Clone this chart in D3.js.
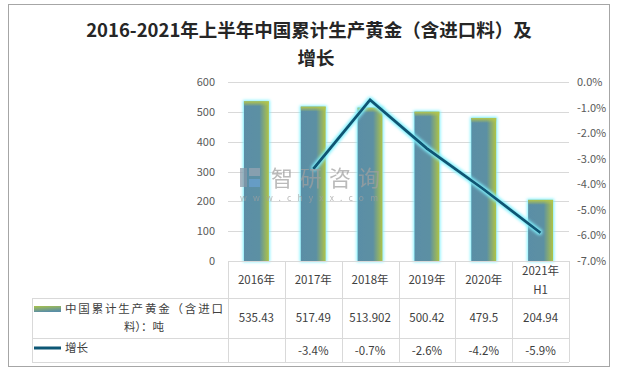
<!DOCTYPE html>
<meta charset="utf-8">
<html>
<head><title>gold production chart</title>
    <script src="https://cdn.jsdelivr.net/npm/d3@7"></script>
    <style>
        body { margin: 0; background: #fff; }
        text { font-family: "Noto Sans CJK SC", "Noto Sans", sans-serif; }
        .grid { stroke: #d9d9d9; stroke-width: 1; }
        .tbl { stroke: #d9d9d9; stroke-width: 1; fill: none; }
        .tick-lbl { fill: #595959; font-size: 11px; }
        .cell { fill: #404040; font-size: 11.5px; }
    </style>
    <script>
        var W = 619, H = 372;

        // data
        var years = ["2016年", "2017年", "2018年", "2019年", "2020年", "2021年H1"];
        var yearLines = [["2016年"], ["2017年"], ["2018年"], ["2019年"], ["2020年"], ["2021年", "H1"]];
        var gold = [535.43, 517.49, 513.902, 500.42, 479.5, 204.94];
        var goldLbl = ["535.43", "517.49", "513.902", "500.42", "479.5", "204.94"];
        var growth = [null, -0.034, -0.007, -0.026, -0.042, -0.059];
        var leftTicks = [0, 100, 200, 300, 400, 500, 600];
        var rightTicks = [0, -0.01, -0.02, -0.03, -0.04, -0.05, -0.06, -0.07];

        function pct(d) {
            return (d * 100).toFixed(1).replace("−", "-") + "%";
        }

        function init() {
            var svg = d3.select("#chart").append("svg")
                .attr("width", W).attr("height", H);

            var defs = svg.append("defs");
            var g1 = defs.append("linearGradient").attr("id", "barGrad")
                .attr("x1", 0).attr("y1", 0).attr("x2", 1).attr("y2", 0);
            g1.append("stop").attr("offset", "0%").attr("stop-color", "#5a8ea6");
            g1.append("stop").attr("offset", "62%").attr("stop-color", "#5c90a3");
            g1.append("stop").attr("offset", "100%").attr("stop-color", "#b0c445");
            var g2 = defs.append("linearGradient").attr("id", "topGrad")
                .attr("x1", 0).attr("y1", 0).attr("x2", 0).attr("y2", 1);
            g2.append("stop").attr("offset", "0%").attr("stop-color", "#b5c64a");
            g2.append("stop").attr("offset", "100%").attr("stop-color", "#b5c64a").attr("stop-opacity", 0);
            var g3 = defs.append("linearGradient").attr("id", "legGrad")
                .attr("x1", 0).attr("y1", 0).attr("x2", 0.3).attr("y2", 1);
            g3.append("stop").attr("offset", "0%").attr("stop-color", "#a9c24a");
            g3.append("stop").attr("offset", "100%").attr("stop-color", "#5a8ea6");

            var glow = defs.append("filter").attr("id", "glow")
                .attr("x", "-50%").attr("y", "-50%").attr("width", "200%").attr("height", "200%");
            glow.append("feMorphology").attr("in", "SourceAlpha").attr("operator", "dilate").attr("radius", 1.2).attr("result", "d");
            glow.append("feGaussianBlur").attr("in", "d").attr("stdDeviation", 1.8).attr("result", "b");
            glow.append("feFlood").attr("flood-color", "#7ff2ff");
            glow.append("feComposite").attr("in2", "b").attr("operator", "in").attr("result", "c");
            var m = glow.append("feMerge");
            m.append("feMergeNode").attr("in", "c");
            m.append("feMergeNode").attr("in", "SourceGraphic");

            // outer frame
            svg.append("rect").attr("x", 8.5).attr("y", 4.5).attr("width", 601).attr("height", 362)
                .attr("fill", "#fff").attr("stroke", "#a6a6a6");

            // title
            var title = svg.append("text").attr("text-anchor", "middle")
                .attr("font-size", "18.5px").attr("font-weight", "bold").attr("fill", "#262626");
            title.append("tspan").attr("x", 309).attr("y", 37).text("2016-2021年上半年中国累计生产黄金（含进口料）及");
            title.append("tspan").attr("x", 316).attr("y", 65).text("增长");

            var x = d3.scaleBand().domain(years).range([228, 569]).paddingInner(0).paddingOuter(0);
            var y = d3.scaleLinear().domain([0, 600]).range([261, 82]);
            var y2 = d3.scaleLinear().domain([-0.07, 0]).range([261, 82]);

            // grid
            svg.selectAll(".grid").data(leftTicks.slice(1)).enter().append("line")
                .attr("class", "grid")
                .attr("x1", 228).attr("x2", 569)
                .attr("y1", function(d) { return Math.round(y(d)) + 0.5; })
                .attr("y2", function(d) { return Math.round(y(d)) + 0.5; });

            // left axis labels
            svg.selectAll(".ll").data(leftTicks).enter().append("text")
                .attr("class", "tick-lbl").attr("text-anchor", "end")
                .attr("x", 215).attr("y", function(d) { return y(d) + 4; })
                .text(function(d) { return d; });

            // right axis labels
            svg.selectAll(".rl").data(rightTicks).enter().append("text")
                .attr("class", "tick-lbl").attr("text-anchor", "start")
                .attr("x", 577).attr("y", function(d) { return y2(d) + 4; })
                .text(function(d) { return d === 0 ? "0.0%" : pct(d); });

            // bars
            var bw = 25;
            var bars = svg.append("g").attr("filter", "url(#glow)");
            bars.selectAll("rect.bar").data(gold).enter().append("rect")
                .attr("class", "bar")
                .attr("x", function(d, i) { return x(years[i]) + x.bandwidth() / 2 - bw / 2; })
                .attr("y", function(d) { return y(d); })
                .attr("width", bw)
                .attr("height", function(d) { return y(0) - y(d); })
                .attr("fill", "url(#barGrad)");
            svg.selectAll("rect.top").data(gold).enter().append("rect")
                .attr("class", "top")
                .attr("x", function(d, i) { return x(years[i]) + x.bandwidth() / 2 - bw / 2; })
                .attr("y", function(d) { return y(d); })
                .attr("width", bw).attr("height", 5)
                .attr("fill", "url(#topGrad)");

            // line
            var pts = growth.map(function(d, i) { return [x(years[i]) + x.bandwidth() / 2, d]; })
                .filter(function(p) { return p[1] !== null; });
            var line = d3.line().x(function(p) { return p[0]; }).y(function(p) { return y2(p[1]); });
            svg.append("path").datum(pts).attr("d", line)
                .attr("fill", "none").attr("stroke", "#0d5775").attr("stroke-width", 3)
                .attr("stroke-linejoin", "miter").attr("filter", "url(#glow)");

            // watermark, drawn over the plot
            var wm = svg.append("g").attr("opacity", 0.72);
            wm.append("rect").attr("x", 240).attr("y", 168).attr("width", 7).attr("height", 19).attr("fill", "#8a98a8");
            wm.append("rect").attr("x", 249).attr("y", 168).attr("width", 11).attr("height", 8).attr("fill", "#98a6b4");
            wm.append("rect").attr("x", 249).attr("y", 179).attr("width", 11).attr("height", 8).attr("fill", "#6aa2d2");
            wm.append("text").attr("x", 271).attr("y", 186).attr("font-size", "22px").attr("fill", "#a0a0a0")
                .attr("textLength", 109).text("智研咨询");
            wm.append("text").attr("x", 240).attr("y", 201).attr("font-size", "8.5px").attr("fill", "#a0a0a0")
                .attr("textLength", 138).text("www.chyxx.com");

            // data table
            var tb = svg.append("g");
            tb.append("line").attr("class", "tbl").attr("x1", 228).attr("x2", 569).attr("y1", 261.5).attr("y2", 261.5);
            [298.5, 338.5, 362.5].forEach(function(yy) {
                tb.append("line").attr("class", "tbl").attr("x1", 32).attr("x2", 569).attr("y1", yy).attr("y2", yy);
            });
            tb.append("line").attr("class", "tbl").attr("x1", 32.5).attr("x2", 32.5).attr("y1", 298).attr("y2", 362);
            var edges = years.map(function(d) { return x(d); }).concat([569]);
            tb.selectAll(".vl").data(edges).enter().append("line").attr("class", "tbl")
                .attr("x1", function(d) { return Math.round(d) + 0.5; })
                .attr("x2", function(d) { return Math.round(d) + 0.5; })
                .attr("y1", 261).attr("y2", 362);

            // header
            yearLines.forEach(function(ls, i) {
                var cx = x(years[i]) + x.bandwidth() / 2;
                var t = tb.append("text").attr("class", "cell").attr("text-anchor", "middle");
                if (ls.length === 1) {
                    t.append("tspan").attr("x", cx).attr("y", 284).text(ls[0]);
                } else {
                    t.append("tspan").attr("x", cx).attr("y", 275).text(ls[0]);
                    t.append("tspan").attr("x", cx).attr("y", 294).text(ls[1]);
                }
            });
            // values
            tb.selectAll(".v1").data(goldLbl).enter().append("text").attr("class", "cell")
                .attr("text-anchor", "middle")
                .attr("x", function(d, i) { return x(years[i]) + x.bandwidth() / 2; })
                .attr("y", 322).text(function(d) { return d; });
            tb.selectAll(".v2").data(growth).enter().append("text").attr("class", "cell")
                .attr("text-anchor", "middle")
                .attr("x", function(d, i) { return x(years[i]) + x.bandwidth() / 2; })
                .attr("y", 355).text(function(d) { return d === null ? "" : pct(d); });

            // legend cells
            tb.append("rect").attr("x", 34).attr("y", 306).attr("width", 27).attr("height", 6)
                .attr("fill", "url(#legGrad)");
            tb.append("text").attr("class", "cell").attr("x", 65).attr("y", 313)
                .attr("font-size", "12px").attr("textLength", 158).text("中国累计生产黄金（含进口");
            tb.append("text").attr("class", "cell").attr("x", 144).attr("y", 331)
                .attr("font-size", "12px").attr("text-anchor", "middle").text("料）：吨");
            tb.append("line").attr("x1", 34).attr("x2", 61).attr("y1", 348).attr("y2", 348)
                .attr("stroke", "#0d5775").attr("stroke-width", 3);
            tb.append("text").attr("class", "cell").attr("font-size", "12px").attr("x", 65).attr("y", 352).text("增长");
        }
    </script>
</head>
<body onload="init()">
<div id="chart"></div>
</body>
</html>
